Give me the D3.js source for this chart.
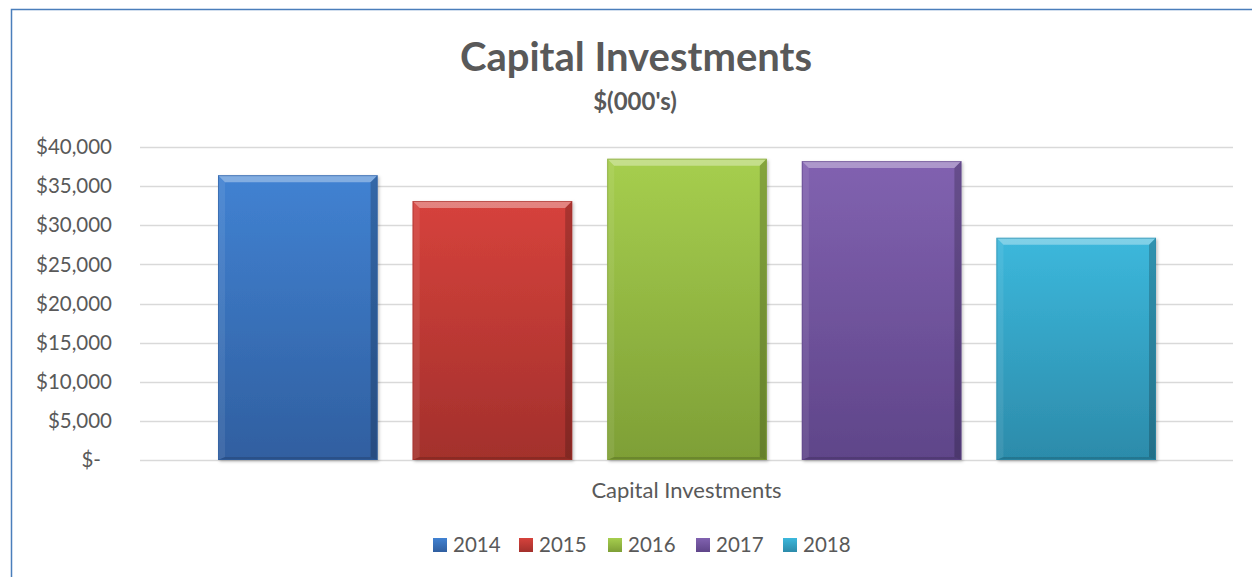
<!DOCTYPE html>
<html><head><meta charset="utf-8">
<script src="https://cdn.jsdelivr.net/npm/d3@7"></script>
<style>html,body{margin:0;padding:0;background:#fff;}svg{display:block;font-family:Lato,"Open Sans",sans-serif;}</style>
</head><body><svg id="c" width="1252" height="577"></svg>
<script>
const categories = ["Capital Investments"];
const series = ["2014","2015","2016","2017","2018"];
const values = [36400, 33100, 38500, 38200, 28400];
const yTicks = [0,5000,10000,15000,20000,25000,30000,35000,40000];
const colors = ["#4182D2","#D6423C","#A6CE4E","#8162B0","#3CB8DC"];
const darkColors = ["#305FA0","#A3302C","#7E9F36","#5F4589","#2C8BAA"];

const svg = d3.select("#c");
const W = 1252, H = 577;
const m = {left:140, right:19, top:147, bottom:117};
const x0 = d3.scaleBand().domain(categories).range([m.left, W-m.right]).paddingOuter(0.0).paddingInner(0);
const x1 = d3.scaleBand().domain(series).range([x0(categories[0])+78, x0(categories[0])+x0.bandwidth()-77]).paddingInner(0.18).paddingOuter(0);
const y = d3.scaleLinear().domain([0,40000]).range([H-m.bottom, m.top]);

// border
svg.append("path").attr("d",`M11.5,577 V9.5 H1252`).attr("fill","none").attr("stroke","#4a7ebb").attr("stroke-width",1.5);

// grid
svg.append("g").selectAll("line").data(yTicks).join("line")
  .attr("x1",m.left).attr("x2",W-m.right).attr("y1",d=>Math.round(y(d))+0.5).attr("y2",d=>Math.round(y(d))+0.5)
  .attr("stroke","#d9d9d9").attr("stroke-width",1.5);

// y labels
const fmt = d => d===0 ? "$-" : "$"+d3.format(",")(d);
svg.append("g").selectAll("text").data(yTicks).join("text")
  .attr("x",d=> d===0 ? 101 : 112).attr("y",d=>y(d)).attr("dy","0.35em").attr("text-anchor","end")
  .attr("font-size",20.5).attr("fill","#595959").text(fmt);

// gradients
const defs = svg.append("defs");
series.forEach((s,i)=>{
  const g = defs.append("linearGradient").attr("id","g"+i).attr("x1",0).attr("y1",0).attr("x2",0).attr("y2",1);
  g.append("stop").attr("offset","0%").attr("stop-color",colors[i]);
  g.append("stop").attr("offset","100%").attr("stop-color",darkColors[i]);
});
const f = defs.append("filter").attr("id","sh").attr("x","-10%").attr("y","-10%").attr("width","130%").attr("height","120%");
f.append("feDropShadow").attr("dx",1.5).attr("dy",1.5).attr("stdDeviation",1.5).attr("flood-color","#000").attr("flood-opacity",0.25);

// bars
const bars = svg.append("g").selectAll("g").data(values.map((v,i)=>({v,i,s:series[i]}))).join("g");
bars.append("rect").attr("x",d=>x1(d.s)).attr("y",d=>y(d.v)).attr("width",x1.bandwidth()).attr("height",d=>y(0)-y(d.v))
  .attr("fill",d=>`url(#g${d.i})`).attr("filter","url(#sh)");
const b = 7;
bars.append("path").attr("d",d=>{const xl=x1(d.s), xr=xl+x1.bandwidth(), t=y(d.v);
  return `M${xl},${t} H${xr} L${xr-b},${t+b} H${xl+b} Z`;})
  .attr("fill","#fff").attr("opacity",0.35);
bars.append("path").attr("d",d=>{const xl=x1(d.s), t=y(d.v), bt=y(0);
  return `M${xl},${t} L${xl+b},${t+b} V${bt-3} L${xl},${bt} Z`;})
  .attr("fill","#fff").attr("opacity",0.08);
bars.append("path").attr("d",d=>{const xr=x1(d.s)+x1.bandwidth(), t=y(d.v), bt=y(0);
  return `M${xr},${t} L${xr-b},${t+b} V${bt-3} L${xr},${bt} Z`;})
  .attr("fill","#000").attr("opacity",0.2);
bars.append("path").attr("d",d=>{const xl=x1(d.s), xr=xl+x1.bandwidth(), bt=y(0);
  return `M${xl},${bt} H${xr} L${xr-b},${bt-3} H${xl+b} Z`;})
  .attr("fill","#000").attr("opacity",0.15);
bars.append("rect").attr("x",d=>x1(d.s)+0.5).attr("y",d=>y(d.v)+0.5).attr("width",x1.bandwidth()-1).attr("height",d=>y(0)-y(d.v)-1)
  .attr("fill","none").attr("stroke",d=>darkColors[d.i]).attr("stroke-opacity",0.6);

// category label
svg.append("text").attr("x",x0(categories[0])+x0.bandwidth()/2).attr("y",498).attr("text-anchor","middle")
  .attr("font-size",22).attr("fill","#595959").text(categories[0]);

// titles
svg.append("text").attr("x",636).attr("y",71).attr("text-anchor","middle").attr("font-size",40).attr("font-weight","bold").attr("fill","#595959").text("Capital Investments");
svg.append("text").attr("x",635).attr("y",110).attr("text-anchor","middle").attr("font-size",24).attr("font-weight","bold").attr("fill","#595959").text("$(000's)");

// legend
const legX = [433, 519, 608, 696, 783];
const leg = svg.append("g").selectAll("g").data(series).join("g").attr("transform",(d,i)=>`translate(${legX[i]},545)`);
leg.append("rect").attr("x",0).attr("y",-7).attr("width",14).attr("height",14).attr("fill",(d,i)=>`url(#g${i})`);
leg.append("text").attr("x",20).attr("y",0).attr("dy","0.35em").attr("font-size",20.5).attr("fill","#595959").text(d=>d);
</script></body></html>
